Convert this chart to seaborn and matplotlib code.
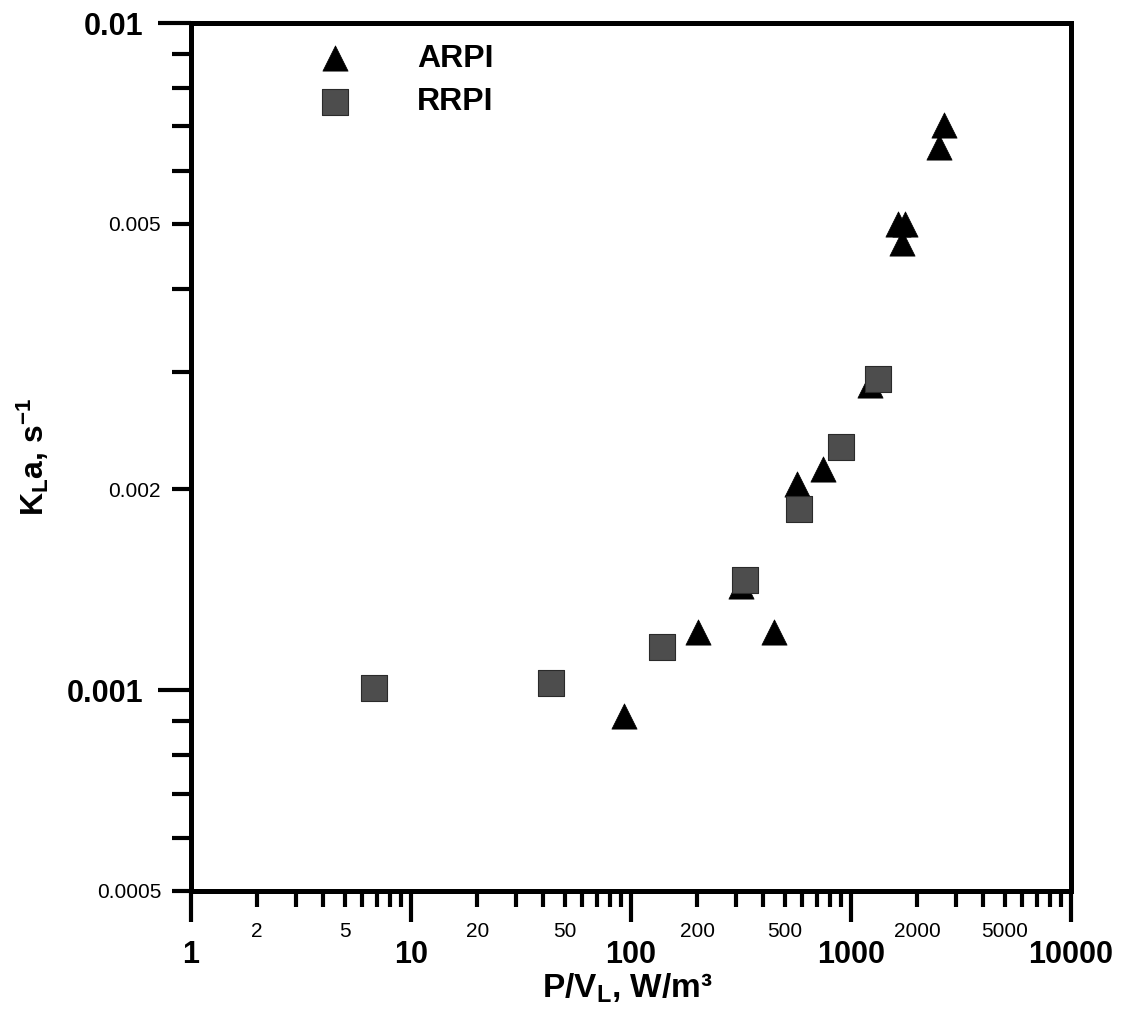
import numpy as np
import pandas as pd
import matplotlib
matplotlib.use("Agg")
import matplotlib.pyplot as plt
import seaborn as sns
from matplotlib.ticker import LogLocator, FixedLocator, FuncFormatter

# ---- data ----
arpi_x = [92.9, 201.6, 446.7, 316, 568, 746, 1220, 1635, 1760, 1705, 2512, 2646]
arpi_y = [0.000915, 0.001222, 0.001222, 0.001432, 0.002037, 0.002146, 0.002867,
          0.004995, 0.004995, 0.004680, 0.006518, 0.007034]
rrpi_x = [6.79, 43.3, 138.3, 330, 580, 900, 1327]
rrpi_y = [0.001008, 0.001025, 0.001161, 0.001462, 0.001869, 0.002315, 0.002927]

x_major = [1, 10, 100, 1000, 10000]
x_minor_labeled = [2, 5, 20, 50, 200, 500, 2000, 5000]
y_major = [0.001, 0.01]
y_minor_labeled = [0.0005, 0.002, 0.005]

sns.set_theme(style="white")
plt.rcParams["font.family"] = ["Liberation Sans", "DejaVu Sans"]
plt.rcParams["mathtext.fontset"] = "custom"
plt.rcParams["mathtext.rm"] = "Liberation Sans"
plt.rcParams["mathtext.bf"] = "Liberation Sans:bold"
plt.rcParams["mathtext.default"] = "bf"
for k in ["text.color", "axes.labelcolor", "xtick.color", "ytick.color", "axes.edgecolor"]:
    plt.rcParams[k] = "black"

fig = plt.figure(figsize=(11.23, 10.11), dpi=100)
ax = fig.add_axes([0.170, 0.1187, 0.7837, 0.8585])

df_a = pd.DataFrame({"x": arpi_x, "y": arpi_y})
df_r = pd.DataFrame({"x": rrpi_x, "y": rrpi_y})

sns.scatterplot(data=df_a, x="x", y="y", marker="^", s=330, color="black",
                edgecolor="black", linewidth=0.5, label="ARPI", ax=ax, legend=False, zorder=3)
sns.scatterplot(data=df_r, x="x", y="y", marker="s", s=370, color="#4d4d4d",
                edgecolor="#2a2a2a", linewidth=0.8, label="RRPI", ax=ax, legend=False, zorder=4)

ax.set_xscale("log")
ax.set_yscale("log")
ax.set_xlim(1, 10000)
ax.set_ylim(0.0005, 0.01)

# ticks
ax.xaxis.set_major_locator(FixedLocator(x_major))
ax.xaxis.set_minor_locator(LogLocator(base=10, subs=np.arange(2, 10), numticks=20))
ax.xaxis.set_major_formatter(FuncFormatter(lambda v, p: f"{v:g}"))
ax.xaxis.set_minor_formatter(FuncFormatter(
    lambda v, p: f"{v:g}" if any(abs(v - m) / m < 1e-6 for m in x_minor_labeled) else ""))

ax.yaxis.set_major_locator(FixedLocator(y_major))
ax.yaxis.set_minor_locator(LogLocator(base=10, subs=np.arange(2, 10), numticks=20))
ax.yaxis.set_major_formatter(FuncFormatter(lambda v, p: f"{v:g}"))
ax.yaxis.set_minor_formatter(FuncFormatter(
    lambda v, p: f"{v:.4f}".rstrip("0") if any(abs(v - m) / m < 1e-6 for m in y_minor_labeled) else ""))

ax.tick_params(axis="both", which="both", direction="out", width=3.0, color="black",
               labelcolor="black", bottom=True, left=True, top=False, right=False)
ax.tick_params(axis="x", which="major", length=22.5, pad=13, labelsize=22)
ax.tick_params(axis="x", which="minor", length=11.5, pad=11, labelsize=15)
ax.tick_params(axis="y", which="major", length=24, pad=10, labelsize=22)
ax.tick_params(axis="y", which="minor", length=13.5, pad=8, labelsize=15)

for lab in ax.get_xticklabels(which="major") + ax.get_yticklabels(which="major"):
    lab.set_fontweight("bold")

for sp in ax.spines.values():
    sp.set_linewidth(3.6)
    sp.set_color("black")
    sp.set_visible(True)

ax.set_xlabel("P/V$_\\mathregular{L}$, W/m³", fontsize=24, fontweight="bold")
ax.xaxis.set_label_coords(0.4955, -0.1125)
ax.xaxis.label.set_va("center")

ax.set_ylabel("K$_\\mathbf{L}$a, s$^\\mathbf{-1}$", fontsize=23, fontweight="bold")
ax.yaxis.set_label_coords(-0.1795, 0.5)
ax.yaxis.label.set_va("center")

ax.grid(False)

leg = ax.legend(loc="upper left", bbox_to_anchor=(0.148, 0.976), frameon=False,
                prop={"family": "Liberation Sans", "weight": "bold", "size": 23},
                handlelength=0.85, handletextpad=2.15, labelspacing=0.42,
                borderpad=0, borderaxespad=0)

fig.savefig("out.png", dpi=100)
